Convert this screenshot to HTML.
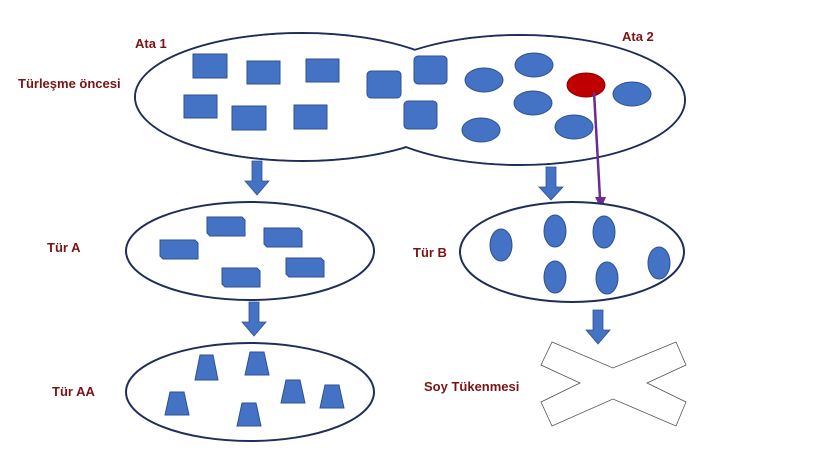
<!DOCTYPE html>
<html><head><meta charset="utf-8"><style>
html,body{margin:0;padding:0;background:#fff;}
svg{display:block;}
text{font-family:"Liberation Sans",sans-serif;font-weight:bold;font-size:13px;fill:#7b1315;}
</style></head><body>
<svg width="825" height="464" viewBox="0 0 825 464" xmlns="http://www.w3.org/2000/svg">
<!-- top double ellipse -->
<ellipse cx="302" cy="97" rx="167" ry="64" fill="#fff" stroke="#1f2d5a" stroke-width="2"/>
<ellipse cx="520" cy="100" rx="165" ry="65" fill="#fff" stroke="#1f2d5a" stroke-width="2"/>
<ellipse cx="302" cy="97" rx="166" ry="63" fill="#fff"/>
<ellipse cx="520" cy="100" rx="164" ry="64" fill="#fff"/>
<g fill="#4472c4" stroke="#2f528f" stroke-width="1">
<rect x="193" y="54" width="34" height="24"/>
<rect x="247" y="61" width="33" height="23"/>
<rect x="306" y="59" width="33" height="23"/>
<rect x="184" y="95" width="33" height="23"/>
<rect x="232" y="106" width="34" height="24"/>
<rect x="294" y="105" width="33" height="24"/>
<rect x="367" y="71" width="34" height="27" rx="4"/>
<rect x="414" y="56" width="33" height="28" rx="4"/>
<rect x="404" y="101" width="33" height="28" rx="4"/>
<ellipse cx="484" cy="80" rx="19" ry="12"/>
<ellipse cx="534" cy="65" rx="19" ry="12"/>
<ellipse cx="533" cy="103" rx="19" ry="12"/>
<ellipse cx="481" cy="130" rx="19" ry="12"/>
<ellipse cx="574" cy="127" rx="19" ry="12"/>
<ellipse cx="632" cy="94" rx="19" ry="12"/>
</g>
<ellipse cx="586" cy="85" rx="19" ry="12" fill="#c00000" stroke="#8b0000" stroke-width="1"/>
<line x1="594" y1="92" x2="600" y2="198" stroke="#6a2c91" stroke-width="2.5"/>
<path d="M595,197 L606,197 L601,209 Z" fill="#6a2c91"/>

<!-- block arrows -->
<g fill="#4472c4" stroke="#2f528f" stroke-width="0.8">
<path d="M252,161 h10 v20 h7 l-12,14 l-12,-14 h7 z"/>
<path d="M546,167 h10 v20 h7 l-12,13 l-12,-13 h7 z"/>
<path d="M249,302 h10 v20 h7 l-12,14 l-12,-14 h7 z"/>
<path d="M593,310 h10 v20 h7 l-12,14 l-12,-14 h7 z"/>
</g>

<!-- Tür A -->
<ellipse cx="250" cy="251" rx="124" ry="49" fill="#fff" stroke="#1f2d5a" stroke-width="2"/>
<g fill="#4472c4" stroke="#2f528f" stroke-width="1">
<path d="M160,240 h35 l3,3 v16 h-35 l-3,-3 z"/>
<path d="M207,217 h35 l3,3 v16 h-35 l-3,-3 z"/>
<path d="M264,228 h35 l3,3 v16 h-35 l-3,-3 z"/>
<path d="M222,268 h35 l3,3 v16 h-35 l-3,-3 z"/>
<path d="M286,258 h35 l3,3 v16 h-35 l-3,-3 z"/>
</g>

<!-- Tür B -->
<ellipse cx="572" cy="252" rx="112" ry="50" fill="#fff" stroke="#1f2d5a" stroke-width="2"/>
<g fill="#4472c4" stroke="#2f528f" stroke-width="1">
<ellipse cx="501" cy="245" rx="11" ry="16"/>
<ellipse cx="555" cy="231" rx="11" ry="16"/>
<ellipse cx="604" cy="232" rx="11" ry="16"/>
<ellipse cx="555" cy="277" rx="11" ry="16"/>
<ellipse cx="607" cy="278" rx="11" ry="16"/>
<ellipse cx="659" cy="263" rx="11" ry="16"/>
</g>

<!-- Tür AA -->
<ellipse cx="250" cy="392" rx="124" ry="49" fill="#fff" stroke="#1f2d5a" stroke-width="2"/>
<g fill="#4472c4" stroke="#2f528f" stroke-width="1">
<path d="M200,355 h13 l5,25 h-23 z"/>
<path d="M250,352 h14 l5,23 h-24 z"/>
<path d="M170,392 h14 l5,23 h-24 z"/>
<path d="M286,380 h14 l5,23 h-24 z"/>
<path d="M325,385 h14 l5,23 h-24 z"/>
<path d="M242,403 h14 l5,23 h-24 z"/>
</g>

<!-- X -->
<path d="M552,342 L613,368 L676,342 L686,365 L647,383 L686,402 L676,426 L613,399 L552,426 L541,402 L580,383 L541,365 Z" fill="#fff" stroke="#555" stroke-width="0.8"/>

<text x="135" y="48">Ata 1</text>
<text x="622" y="41">Ata 2</text>
<text x="18" y="88">Türleşme öncesi</text>
<text x="47" y="252">Tür A</text>
<text x="413" y="257">Tür B</text>
<text x="52" y="396">Tür AA</text>
<text x="424" y="391">Soy Tükenmesi</text>
</svg>
</body></html>
